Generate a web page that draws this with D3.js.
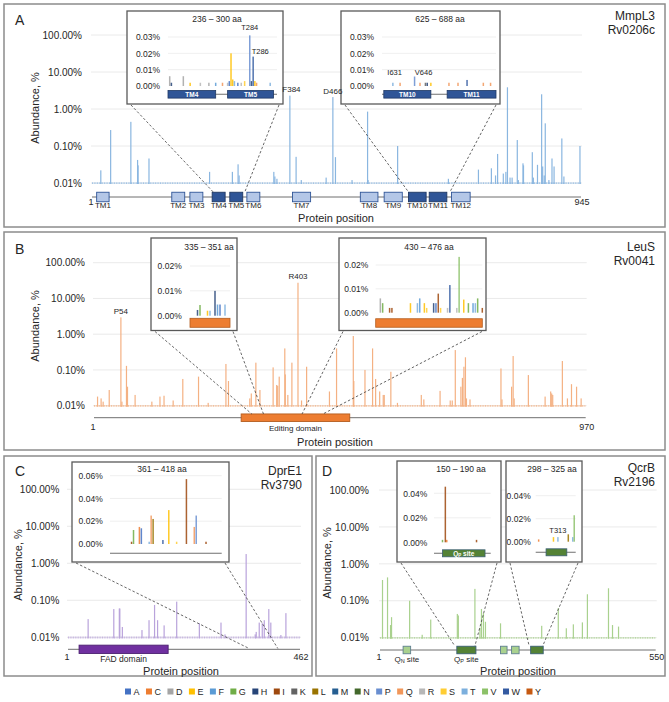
<!DOCTYPE html>
<html><head><meta charset="utf-8">
<script src="https://cdn.jsdelivr.net/npm/d3@7"></script>
<style>body{margin:0;background:#fff}text{font-family:Arial,"Liberation Sans",sans-serif;fill:#262626}</style>
</head><body><script>
// ---------------- DATA ----------------
const aaLetters = ["A","C","D","E","F","G","H","I","K","L","M","N","P","Q","R","S","T","V","W","Y"];
const aaColors  = ["#4472C4","#ED7D31","#A5A5A5","#FFC000","#5B9BD5","#70AD47","#264478","#9E480E","#636363","#997300","#255E91","#43682B","#698ED0","#F1975A","#B7B7B7","#FFCD33","#7CAFDD","#8CC168","#335AA1","#C65911"];
const yTicks = [0.01,0.1,1,10,100];
const yTickLabels = ["0.01%","0.10%","1.00%","10.00%","100.00%"];

// Panel A: MmpL3
const mmplPos = [18,37,76,89,90,111,228,272,283,285,352,354,358,383,395,405,453,466,471,503,533,534,591,689,747,772,780,784,795,800,803,808,812,822,824,833,834,851,853,861,869,871,874,876,883,889,893,908,912,943];
const mmplVal = [0.022,0.27,0.45,0.042,0.03,0.046,0.02,0.02,0.032,0.016,0.02,0.015,0.013,2.3,0.051,0.012,0.014,2.1,0.05,0.012,0.85,0.012,0.10,0.013,0.023,0.025,0.016,0.061,0.018,0.020,3.86,0.014,0.014,0.145,0.012,0.034,0.03,0.068,0.014,0.031,2.5,0.028,0.016,0.41,0.012,0.046,0.028,0.16,0.015,0.10];
const mmplLabels = ["F384","D466"], mmplLabelPos = [386,466], mmplLabelVal = [2.3,2.1];
const tmNames = ["TM1","TM2","TM3","TM4","TM5","TM6","TM7","TM8","TM9","TM10","TM11","TM12"];
const tmStart = [10,155,190,233,267,300,388,519,565,612,652,695];
const tmEnd   = [34,180,215,258,292,325,423,553,600,646,686,731];
const tmZoomed = [0,0,0,1,1,0,0,0,0,1,1,0];

const a1Range = [236,300], a1Conn = [235,296];
const a1Pos = [237,238,245,249,255,260,264,268,271,272,273,274,275,277,279,281,284,285,286,287,288,296];
const a1AA  = ["D","H","D","E","R","D","F","Q","R","A","E","E","T","A","R","S","P","H","W","E","Q","T"];
const a1Val = [0.006,0.002,0.006,0.002,0.002,0.002,0.002,0.002,0.002,0.003,0.020,0.004,0.003,0.002,0.002,0.003,0.031,0.003,0.018,0.003,0.002,0.002];
const a1Labels = ["T284","T286"], a1LabelPos = [284,286], a1LabelVal = [0.034,0.0195];
const a1Dom = ["TM4","TM5"], a1DomStart = [236,271], a1DomEnd = [264,298];

const a2Range = [625,688], a2Conn = [612,692];
const a2Pos = [631,635,643,646,649,650,652,662,667,672,681,685];
const a2AA  = ["T","Q","P","Q","K","H","E","Q","Q","W","Q","Q"];
const a2Val = [0.002,0.002,0.0058,0.002,0.002,0.002,0.002,0.002,0.002,0.0037,0.002,0.002];
const a2Labels = ["I631","V646"], a2LabelPos = [632,648], a2LabelVal = [0.007,0.007];
const a2Dom = ["TM10","TM11"], a2DomStart = [626,661], a2DomEnd = [652,688];

// Panel B: LeuS
const leusPos = [8,15,19,31,54,56,65,67,82,115,131,139,157,176,207,226,261,266,308,311,320,328,354,361,363,366,377,378,383,391,403,410,420,465,479,512,513,535,550,556,564,571,573,586,599,646,651,683,703,707,713,724,727,730,733,735,742,803,805,824,827,829,857,890,901,903,905,924,934,942,952,961];
const leusVal = [0.018,0.016,0.013,0.0275,2.96,0.013,0.13,0.034,0.02,0.013,0.018,0.019,0.014,0.056,0.065,0.012,0.147,0.049,0.016,0.022,0.16,0.0275,0.118,0.038,0.036,0.065,0.40,0.075,0.02,0.16,27.5,0.014,0.123,0.025,0.40,0.89,0.049,0.10,0.40,0.056,0.025,0.02,0.02,0.089,0.012,0.02,0.015,0.026,0.014,0.014,0.36,0.034,0.06,0.123,0.226,0.016,0.015,0.11,0.015,0.034,0.245,0.016,0.072,0.018,0.025,0.022,0.02,0.178,0.016,0.04,0.034,0.016];
const leusLabels = ["P54","R403"], leusLabelPos = [54,403], leusLabelVal = [2.96,27.5];
const editStart = 291, editEnd = 505;

const b1Range = [335,351], b1Conn = [312,335];
const b1Pos = [338,339,342,343,345,346,347,349];
const b1AA  = ["H","G","E","T","H","F","A","T"];
const b1Val = [0.0023,0.0043,0.002,0.002,0.010,0.0045,0.0045,0.0045];

const b2Range = [430,476], b2Conn = [411,452];
const b2Pos = [432,433,436,437,445,448,449,451,452,455,456,457,458,461,462,465,466,468,470,472,473,474,476];
const b2AA  = ["D","G","I","I","E","T","F","E","S","H","A","I","S","R","W","R","V","E","G","F","T","G","I"];
const b2Val = [0.006,0.004,0.002,0.002,0.004,0.004,0.006,0.004,0.002,0.004,0.004,0.008,0.002,0.002,0.0116,0.002,0.0234,0.0055,0.004,0.004,0.004,0.006,0.002];

// Panel C: DprE1
const dprePos = [41,92,103,104,109,148,162,173,179,192,217,262,305,313,355,373,375,381,387,391,400,404,424,434];
const dpreVal = [0.031,0.058,0.06,0.06,0.019,0.0157,0.029,0.075,0.029,0.021,0.092,0.024,0.025,0.012,1.78,0.012,0.014,0.025,0.024,0.029,0.058,0.025,0.0115,0.045];
const fadStart = 23, fadEnd = 200;
const cRange = [361,418], cConn = [361,418];
const cPos = [372,373,376,377,381,382,383,388,391,395,400,404,405,410];
const cAA  = ["I","G","C","A","T","Q","L","W","E","S","I","Q","P","I"];
const cVal = [0.002,0.0123,0.015,0.0138,0.002,0.025,0.022,0.0035,0.0298,0.002,0.057,0.015,0.025,0.002];

// Panel D: QcrB
const qcrPos = [6,16,22,24,60,85,102,155,157,190,200,203,207,211,241,323,356,372,386,404,414,456,464,476];
const qcrVal = [0.365,0.43,0.022,0.036,0.10,0.012,0.031,0.044,0.04,0.21,0.0186,0.06,0.046,0.027,0.0245,0.021,0.063,0.018,0.023,0.026,0.15,0.218,0.022,0.02];
const qSiteNames = ["QN","QP","","",""];
const qStart = [47,154,241,263,301];
const qEnd   = [62,192,254,278,326];
const qDark  = [0,1,0,0,1];
const d1Range = [150,190], d1Conn = [150,190];
const d1Pos = [156,158,159,180], d1AA = ["G","I","C","I"], d1Val = [0.002,0.0454,0.002,0.002];
const d2Range = [298,325], d2Conn = [298,325];
const d2Pos = [300,310,313,320,323,324], d2AA = ["C","E","T","L","T","V"], d2Val = [0.002,0.004,0.004,0.0064,0.004,0.023];
const d2Labels = ["T313"], d2LabelPos = [313], d2LabelVal = [0.0078];

// ---------------- DRAWING ----------------
const svg = d3.select("body").append("svg").attr("width",669).attr("height",702);
const colorOf = d3.scaleOrdinal(aaLetters, aaColors);
const zip = (p,v,a) => p.map((d,i)=>({p:d,v:v[i],a:a?a[i]:null}));

function txt(g,x,y,s,size,anchor="middle",fill="#262626"){
  return g.append("text").attr("x",x).attr("y",y).attr("font-size",size).attr("text-anchor",anchor).attr("fill",fill).text(s);
}

function drawPanel(c){
  const g = svg.append("g");
  const [fx0,fy0,fx1,fy1] = c.frame;
  g.append("rect").attr("x",fx0).attr("y",fy0).attr("width",fx1-fx0).attr("height",fy1-fy0)
    .attr("fill","#fff").attr("stroke","#8c8c8c").attr("stroke-width",1.5);
  const x = d3.scaleLinear().domain([1,c.len]).range(c.xr);
  const y = d3.scaleLog().domain([0.01,100]).range(c.yr);
  g.selectAll(null).data(yTicks).join("line").attr("x1",c.xr[0]-1).attr("x2",c.xr[1]+1)
    .attr("y1",d=>y(d)).attr("y2",d=>y(d)).attr("stroke","#e4e4e4").attr("stroke-width",0.8);
  const ax = d3.axisLeft(y).tickValues(yTicks).tickFormat((d,i)=>yTickLabels[i]).tickSize(0).tickPadding(0);
  const ag = g.append("g").attr("transform",`translate(${c.tickX},0)`).call(ax);
  ag.select(".domain").remove();
  ag.selectAll("text").attr("font-size",10).attr("fill","#404040").attr("font-family",'Arial,"Liberation Sans",sans-serif');
  const base = y(0.01)+1;
  // noise floor
  g.append("line").attr("x1",x(1)).attr("x2",x(c.len)).attr("y1",base-0.8).attr("y2",base-0.8)
    .attr("stroke",c.color).attr("stroke-width",1.8).attr("stroke-dasharray","1,0.7").attr("opacity",0.75);
  g.selectAll(null).data(zip(c.pos,c.val)).join("rect")
    .attr("x",d=>x(d.p)-0.6).attr("width",1.2).attr("y",d=>y(d.v)).attr("height",d=>base-y(d.v))
    .attr("fill",c.color);
  // domain line + boxes
  g.append("line").attr("x1",x(1)).attr("x2",x(c.len)).attr("y1",c.domY).attr("y2",c.domY)
    .attr("stroke","#6f6f6f").attr("stroke-width",1);
  c.boxes.forEach(b=>{
    g.append("rect").attr("x",x(b.s)).attr("width",x(b.e)-x(b.s)).attr("y",c.domY-b.h/2).attr("height",b.h)
      .attr("fill",b.fill).attr("stroke",b.stroke).attr("stroke-width",0.9);
    if(b.label){
      const t = g.append("text").attr("x",(x(b.s)+x(b.e))/2).attr("y",b.ly).attr("font-size",b.fs||8).attr("text-anchor","middle").attr("fill","#404040");
      if(b.sub){
        t.append("tspan").text(b.label);
        t.append("tspan").attr("font-size",5.5).attr("dy",1.5).text(b.sub);
        t.append("tspan").attr("dy",-1.5).text(" site");
      } else t.text(b.label);
    }
  });
  txt(g,x(1)-1,c.endY,"1",9,"middle","#404040");
  txt(g,x(c.len)+1,c.endY,String(c.len),9,"middle","#404040");
  txt(g,c.xtX,c.xtY,"Protein position",11,"middle","#262626");
  g.append("text").attr("transform",`translate(${c.ytX},${c.ytY}) rotate(-90)`).attr("font-size",11)
    .attr("text-anchor","middle").attr("fill","#262626").text("Abundance, %");
  txt(g,c.letter[1],c.letter[2],c.letter[0],14,"start","#111");
  txt(g,c.name[2],c.name[3],c.name[0],12,"end","#262626");
  txt(g,c.name[2],c.name[3]+13.5,c.name[1],12,"end","#262626");
  (c.insets||[]).forEach(ins=>drawInset(g,x,ins));
  // peak labels on top
  if(c.labels) c.labels.forEach((t,i)=>txt(g,x(c.labelPos[i]),y(c.labelVal[i])-3.5,t,8,"middle","#333"));
  return g;
}

function drawInset(g,mx,c){
  const [bx0,by0,bx1,by1] = c.box;
  [[bx0+4,c.conn[0]],[bx1-4,c.conn[1]]].forEach(([sx,aa])=>{
    g.append("line").attr("x1",sx).attr("y1",by1+1).attr("x2",mx(aa)).attr("y2",c.connY)
      .attr("stroke","#404040").attr("stroke-width",0.8).attr("stroke-dasharray","2.5,2");
  });
  g.append("rect").attr("x",bx0).attr("y",by0).attr("width",bx1-bx0).attr("height",by1-by0)
    .attr("fill","#fff").attr("stroke","#595959").attr("stroke-width",1.3);
  const ix = d3.scaleLinear().domain(c.range).range(c.plot);
  const iy = d3.scaleLinear().domain([0,c.yMax]).range([c.y0,c.yTop]);
  g.selectAll(null).data(c.ticks.filter(t=>t>0)).join("line").attr("x1",c.plot[0]).attr("x2",c.plot[1])
    .attr("y1",d=>iy(d)).attr("y2",d=>iy(d)).attr("stroke","#ebebeb").attr("stroke-width",0.8);
  const ax = d3.axisLeft(iy).tickValues(c.ticks).tickFormat(d=>d3.format(".2f")(d)+"%").tickSize(0).tickPadding(0);
  const ag = g.append("g").attr("transform",`translate(${c.labelX},0)`).call(ax);
  ag.select(".domain").remove();
  ag.selectAll("text").attr("font-size",8.5).attr("fill","#404040").attr("font-family",'Arial,"Liberation Sans",sans-serif');
  txt(g,c.titleX,c.titleY,c.title,8.5,"middle","#262626");
  if(c.line) g.append("line").attr("x1",c.plot[0]).attr("x2",c.plot[1]).attr("y1",c.domY).attr("y2",c.domY)
    .attr("stroke","#6f6f6f").attr("stroke-width",1.1);
  (c.boxes||[]).forEach(b=>{
    g.append("rect").attr("x",ix(b.s)).attr("width",ix(b.e)-ix(b.s)).attr("y",c.domY-b.h/2).attr("height",b.h)
      .attr("fill",b.fill).attr("stroke",b.stroke).attr("stroke-width",0.8);
    if(b.label){
      const t = g.append("text").attr("x",(ix(b.s)+ix(b.e))/2).attr("y",c.domY+2.3).attr("font-size",6.5)
        .attr("text-anchor","middle").attr("font-weight","bold").style("fill","#fff");
      if(b.sub){ t.append("tspan").text(b.label); t.append("tspan").attr("font-size",4.5).attr("dy",1.2).text(b.sub); t.append("tspan").attr("dy",-1.2).text(" site"); }
      else t.text(b.label);
    }
  });
  g.selectAll(null).data(zip(c.pos,c.val,c.aa)).join("rect")
    .attr("x",d=>ix(d.p)-0.75).attr("width",1.5).attr("y",d=>iy(d.v)).attr("height",d=>c.y0-iy(d.v))
    .attr("fill",d=>colorOf(d.a)).attr("opacity",0.85);
  if(c.labels) c.labels.forEach((t,i)=>{
    const anchor = c.anchors ? c.anchors[i] : "middle";
    txt(g,ix(c.labelPos[i])+(anchor==="start"?-1.5:0),iy(c.labelVal[i]),t,7.5,anchor,"#262626");
  });
}

const tmLight = {fill:"#B4C7E7",stroke:"#2F5597"}, tmDarkS = {fill:"#2F5597",stroke:"#1F3864"};

// Panel A
drawPanel({
  frame:[4,4,665,227], len:945, xr:[92,581], yr:[183,35], tickX:82, color:"#8AB6E0",
  pos:mmplPos, val:mmplVal, labels:mmplLabels, labelPos:mmplLabelPos, labelVal:mmplLabelVal,
  domY:197,
  boxes: tmNames.map((n,i)=>({s:tmStart[i],e:tmEnd[i],h:9.5,...(tmZoomed[i]?tmDarkS:tmLight),label:n,ly:208,fs:8})),
  endY:205, xtX:336, xtY:222, ytX:39, ytY:108,
  letter:["A",15,25], name:["MmpL3","Rv0206c",655,20],
  insets:[
    {box:[127,11,283,104], plot:[168,277], range:a1Range, conn:a1Conn, connY:192, y0:86, yMax:0.03, yTop:37,
     ticks:[0,0.01,0.02,0.03], labelX:160, title:"236 – 300 aa", titleX:217, titleY:22,
     pos:a1Pos, aa:a1AA, val:a1Val, labels:a1Labels, labelPos:a1LabelPos, labelVal:a1LabelVal, anchors:["middle","start"],
     line:true, domY:94.3, boxes:a1Dom.map((n,i)=>({s:a1DomStart[i],e:a1DomEnd[i],h:7.6,...tmDarkS,label:n}))},
    {box:[341,11,500,104], plot:[382,496], range:a2Range, conn:a2Conn, connY:192, y0:86, yMax:0.03, yTop:37,
     ticks:[0,0.01,0.02,0.03], labelX:374, title:"625 – 688 aa", titleX:440, titleY:22,
     pos:a2Pos, aa:a2AA, val:a2Val, labels:a2Labels, labelPos:a2LabelPos, labelVal:a2LabelVal,
     line:true, domY:94.3, boxes:a2Dom.map((n,i)=>({s:a2DomStart[i],e:a2DomEnd[i],h:7.6,...tmDarkS,label:n}))}
  ]
});

// Panel B
const orangeBox = {fill:"#ED7D31",stroke:"#B35C1E"};
drawPanel({
  frame:[4,232,665,450], len:970, xr:[94,585.7], yr:[405.7,262.7], tickX:85, color:"#F4B183",
  pos:leusPos, val:leusVal, labels:leusLabels, labelPos:leusLabelPos, labelVal:leusLabelVal,
  domY:417.7,
  boxes:[{s:editStart,e:editEnd,h:7.5,...orangeBox,label:"Editing domain",ly:431,fs:8}],
  endY:430, xtX:335, xtY:446, ytX:39, ytY:326,
  letter:["B",15,254], name:["LeuS","Rv0041",655,251],
  insets:[
    {box:[151,238,237,330.5], plot:[190,230], range:b1Range, conn:b1Conn, connY:414, y0:315.7, yMax:0.02, yTop:266,
     ticks:[0,0.01,0.02], labelX:181.7, title:"335 – 351 aa", titleX:209, titleY:249.5,
     pos:b1Pos, aa:b1AA, val:b1Val, line:false, domY:322.8, boxes:[{s:b1Range[0],e:b1Range[1],h:9,...orangeBox}]},
    {box:[339,238,486,330.5], plot:[375.7,482.3], range:b2Range, conn:b2Conn, connY:414, y0:312.7, yMax:0.02, yTop:265,
     ticks:[0,0.01,0.02], labelX:368.3, title:"430 – 476 aa", titleX:429, titleY:249.5,
     pos:b2Pos, aa:b2AA, val:b2Val, line:false, domY:323, boxes:[{s:b2Range[0],e:b2Range[1],h:8.5,...orangeBox}]}
  ]
});

// Panel C
drawPanel({
  frame:[4,456,312,676], len:462, xr:[68,300], yr:[637.3,489.3], tickX:59.3, color:"#B9A3DB",
  pos:dprePos, val:dpreVal,
  domY:649.3,
  boxes:[{s:fadStart,e:fadEnd,h:8.3,fill:"#7030A0",stroke:"#4B2070",label:"FAD domain",ly:662,fs:8.5}],
  endY:660, xtX:181, xtY:675, ytX:22, ytY:565,
  letter:["C",15,476], name:["DprE1","Rv3790",302,475],
  insets:[
    {box:[72,462,229,562], plot:[110,221.7], range:cRange, conn:cConn, connY:648.5, y0:544, yMax:0.06, yTop:475.7,
     ticks:[0,0.02,0.04,0.06], labelX:102.7, title:"361 – 418 aa", titleX:162, titleY:472,
     pos:cPos, aa:cAA, val:cVal, line:true, domY:553.3, boxes:[]}
  ]
});

// Panel D
const gLight = {fill:"#A9D18E",stroke:"#5F7F8F"}, gDark = {fill:"#548235",stroke:"#3A5F73"};
drawPanel({
  frame:[316,456,665,676], len:550, xr:[380,655.7], yr:[637.7,490], tickX:369, color:"#A9D18E",
  pos:qcrPos, val:qcrVal,
  domY:650,
  boxes: qStart.map((s,i)=>({s, e:qEnd[i], h:7.5, ...(qDark[i]?gDark:gLight), label:qSiteNames[i]?"Q":null, sub:qSiteNames[i]?qSiteNames[i].slice(1):null, ly:661.5, fs:8})),
  endY:660, xtX:518, xtY:675, ytX:331, ytY:563,
  letter:["D",322,476], name:["QcrB","Rv2196",655,472],
  insets:[
    {box:[397,461,501,562], plot:[434,490.7], range:d1Range, conn:d1Conn, connY:646, y0:542.3, yMax:0.04, yTop:493.3,
     ticks:[0,0.02,0.04], labelX:427.3, title:"150 – 190 aa", titleX:461, titleY:472,
     pos:d1Pos, aa:d1AA, val:d1Val, line:true, domY:553.3, boxes:[{s:156,e:186,h:7,...gDark,label:"Q",sub:"P"}]},
    {box:[506,461,582,562], plot:[535.7,575.7], range:d2Range, conn:d2Conn, connY:646, y0:541.7, yMax:0.04, yTop:495.7,
     ticks:[0,0.02,0.04], labelX:530.7, title:"298 – 325 aa", titleX:552, titleY:472,
     pos:d2Pos, aa:d2AA, val:d2Val, labels:d2Labels, labelPos:d2LabelPos, labelVal:d2LabelVal,
     line:true, domY:552.3, boxes:[{s:305,e:319,h:7,...gDark}]}
  ]
});

// Legend
const lg = svg.append("g");
const widths = aaLetters.map(l=>{const t=lg.append("text").attr("font-size",9).text(l);const w=t.node().getComputedTextLength();t.remove();return w;});
const sq=6, g1=2.5, totalW=416;
const gap = (totalW - d3.sum(widths) - aaLetters.length*(sq+g1))/(aaLetters.length-1);
let cx = 125;
aaLetters.forEach((l,i)=>{
  lg.append("rect").attr("x",cx).attr("y",688.5).attr("width",sq).attr("height",sq).attr("fill",colorOf(l));
  txt(lg,cx+sq+g1,694.8,l,9,"start","#404040");
  cx += sq+g1+widths[i]+gap;
});
</script></body></html>
